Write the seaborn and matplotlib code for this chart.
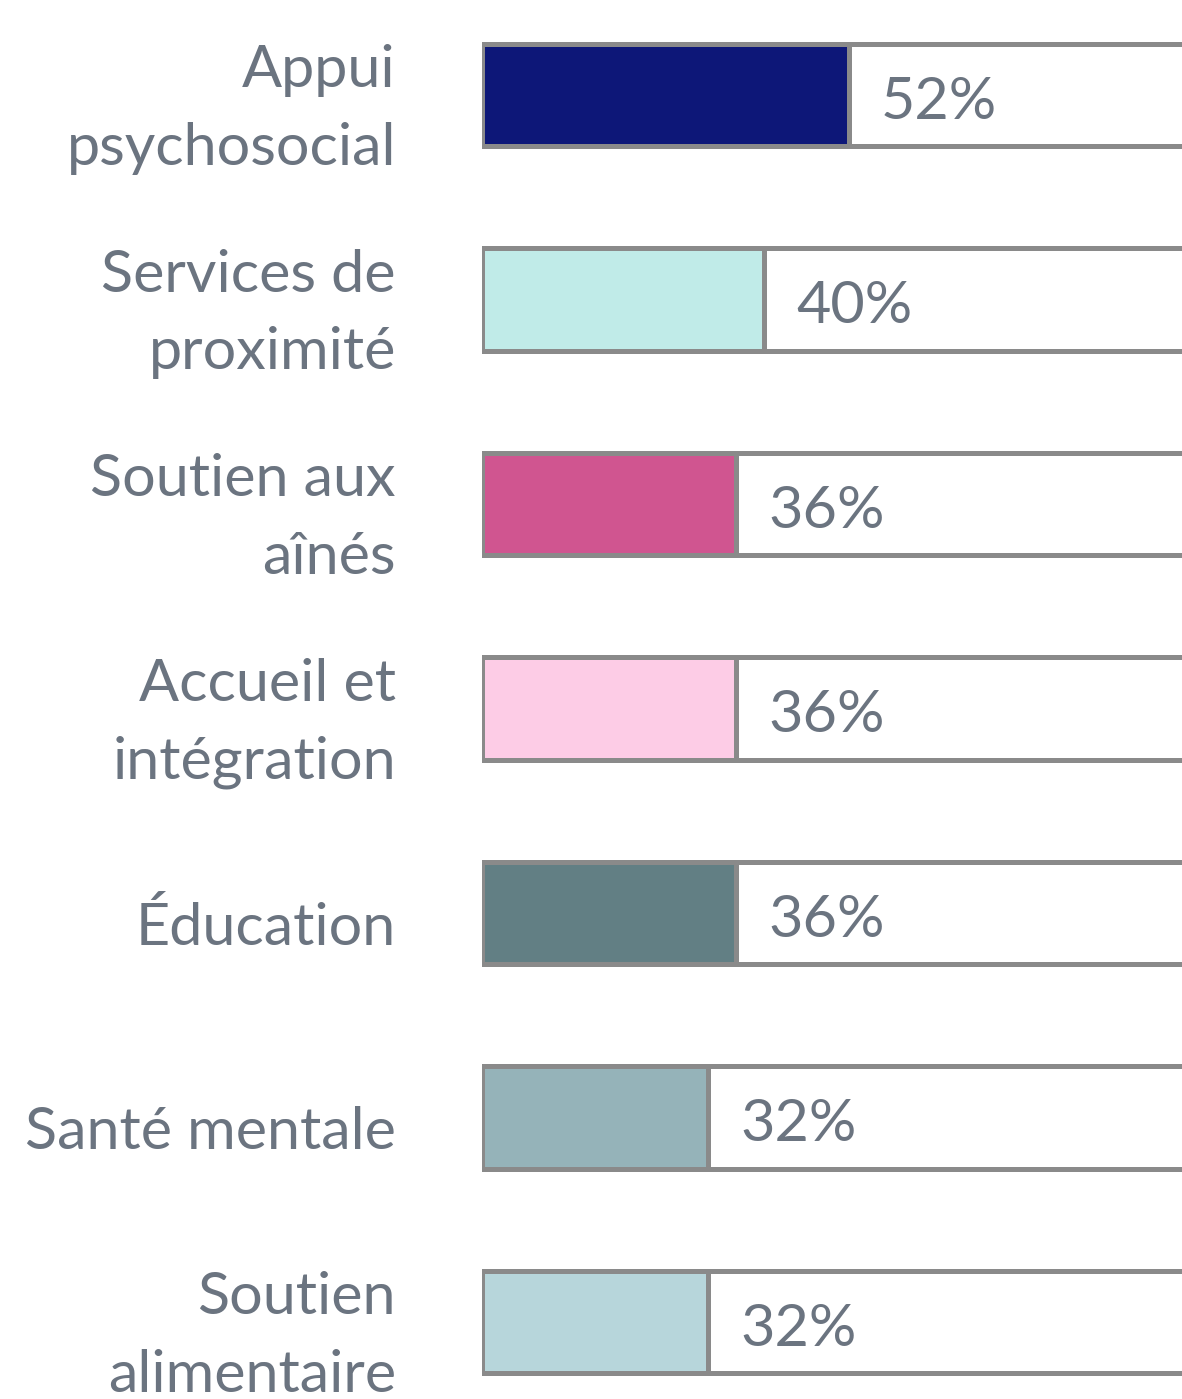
import matplotlib
matplotlib.use("Agg")
import matplotlib.pyplot as plt
import matplotlib.transforms as mtransforms
import seaborn as sns
import pandas as pd

# Data
categories = [
    "Appui\npsychosocial",
    "Services de\nproximité",
    "Soutien aux\naînés",
    "Accueil et\nintégration",
    "Éducation",
    "Santé mentale",
    "Soutien\nalimentaire",
]
values = [52, 40, 36, 36, 36, 32, 32]
colors = ["#0d1778", "#c0ebe8", "#d05590", "#fdcce6", "#627f84", "#95b3b9", "#b7d6db"]

text_color = "#6b7480"
edge_color = "#8a8a8a"

sns.set_style("white")
plt.rcParams["font.family"] = ["Lato", "DejaVu Sans"]

df = pd.DataFrame({"category": categories, "value": values, "full": [100] * len(values)})

fig = plt.figure(figsize=(11.82, 13.99), dpi=100)
ax = fig.add_axes([482 / 1182, 0, 700 / 1182, 1])

# white background bar (100%)
sns.barplot(data=df, x="full", y="category", orient="h", color="white",
            saturation=1, edgecolor=edge_color, linewidth=3.6, width=0.5, ax=ax)
# coloured fill
sns.barplot(data=df, x="value", y="category", orient="h", hue="category",
            palette=colors, saturation=1, legend=False, edgecolor=edge_color,
            linewidth=3.6, width=0.5, ax=ax)

for i, v in enumerate(values):
    ax.text(v + 4.6, i + 0.115, f"{v}%", va="baseline", ha="left",
            fontsize=42.7, color=text_color)

ax.set_xlim(0, 99.3)
ax.set_ylim(6.376, -0.4645)
ax.set_xlabel("")
ax.set_ylabel("")
ax.set_xticks([])
ax.tick_params(axis="y", length=0, pad=62)
for lab in ax.get_yticklabels():
    lab.set_fontsize(42.7)
    lab.set_color(text_color)
    lab.set_multialignment("right")
    lab.set_linespacing(1.57)
    dy = 3 if "\n" in lab.get_text() else -10
    shift = mtransforms.ScaledTranslation(0, dy / 100, fig.dpi_scale_trans)
    lab.set_transform(lab.get_transform() + shift)
sns.despine(ax=ax, left=True, bottom=True)

fig.savefig("out.png", dpi=100)
